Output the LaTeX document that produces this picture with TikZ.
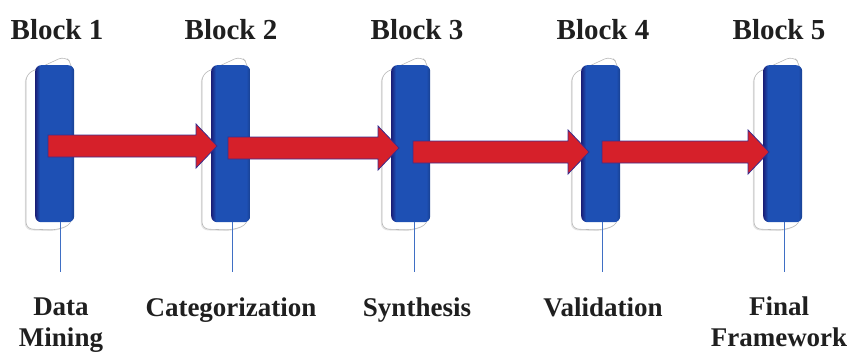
\documentclass[tikz,border=0pt]{standalone}
\usepackage{fontspec}
\setmainfont{Liberation Serif}
\usetikzlibrary{shadows}
\definecolor{pblue}{HTML}{1E50B4}
\definecolor{pnavy}{HTML}{1A1F78}
\definecolor{ared}{HTML}{D6202A}
\definecolor{aedge}{HTML}{3A2E8E}
\definecolor{lline}{HTML}{3F6FC4}
\pgfdeclarehorizontalshading{panelshade}{100bp}{color(0bp)=(pnavy); color(25bp)=(pnavy); color(31bp)=(pblue); color(70bp)=(pblue); color(75bp)=(pblue!80!black); color(100bp)=(pblue!80!black)}
\newcommand{\barrow}[4]{%
  \draw[barrow] (#2,#4-11) -- (#3-21,#4-11) -- (#3-21,#4-22) -- (#3,#4) -- (#3-21,#4+22) -- (#3-21,#4+11) -- (#2,#4+11) -- cycle;}
\begin{document}
\begin{tikzpicture}[x=1pt,y=-1pt,
  plate/.style={fill=white, draw=gray!55, line width=0.6pt, rounded corners=7pt,
    drop shadow={opacity=0.22, shadow xshift=-1.2pt, shadow yshift=-1.2pt}},
  panel/.style={shading=panelshade, draw=none, rounded corners=6pt,
    minimum width=39pt, minimum height=157pt, inner sep=0pt, anchor=north west},
  leader/.style={draw=lline, line width=0.8pt},
  barrow/.style={fill=ared, draw=aedge, line width=0.8pt, line join=miter},
  ttl/.style={font=\bfseries\fontsize{29}{29}\selectfont, anchor=base, inner sep=0pt, text=black!88},
  lbl/.style={font=\bfseries\fontsize{27}{31}\selectfont, anchor=base, inner sep=0pt, align=center, text=black!88}]
\useasboundingbox (0,0) rectangle (848,354);
\foreach \i/\L/\lx in {1/35/60, 2/211/232, 3/391/414, 4/581/602, 5/763/784} {
  \path[plate] ({\L-9},229) -- ({\L-9},74) -- ({\L+30},56) -- ({\L+37},64) -- ({\L+37},224) -- ({\L+22},230) -- cycle;
  \coordinate (e\i) at (\lx,272);
  \node[panel] (p\i) at (\L,65) {};
  \draw[leader] (p\i.south -| e\i) -- (e\i);
}
\barrow{a1}{48}{217}{146}
\barrow{a2}{228}{399}{148}
\barrow{a3}{413}{589}{152}
\barrow{a4}{602}{769}{152}
\node[ttl] (t1) at (57,39) {Block 1};
\node[ttl] (t2) at (231,39) {Block 2};
\node[ttl] (t3) at (417,39) {Block 3};
\node[ttl] (t4) at (603,39) {Block 4};
\node[ttl] (t5) at (779,39) {Block 5};
\node[lbl] (l1) at (61,346) {Data\\Mining};
\node[lbl] (l2) at (231,316) {Categorization};
\node[lbl] (l3) at (417,316) {Synthesis};
\node[lbl] (l4) at (603,316) {Validation};
\node[lbl] (l5) at (779,346) {Final\\Framework};
\end{tikzpicture}
\end{document}
